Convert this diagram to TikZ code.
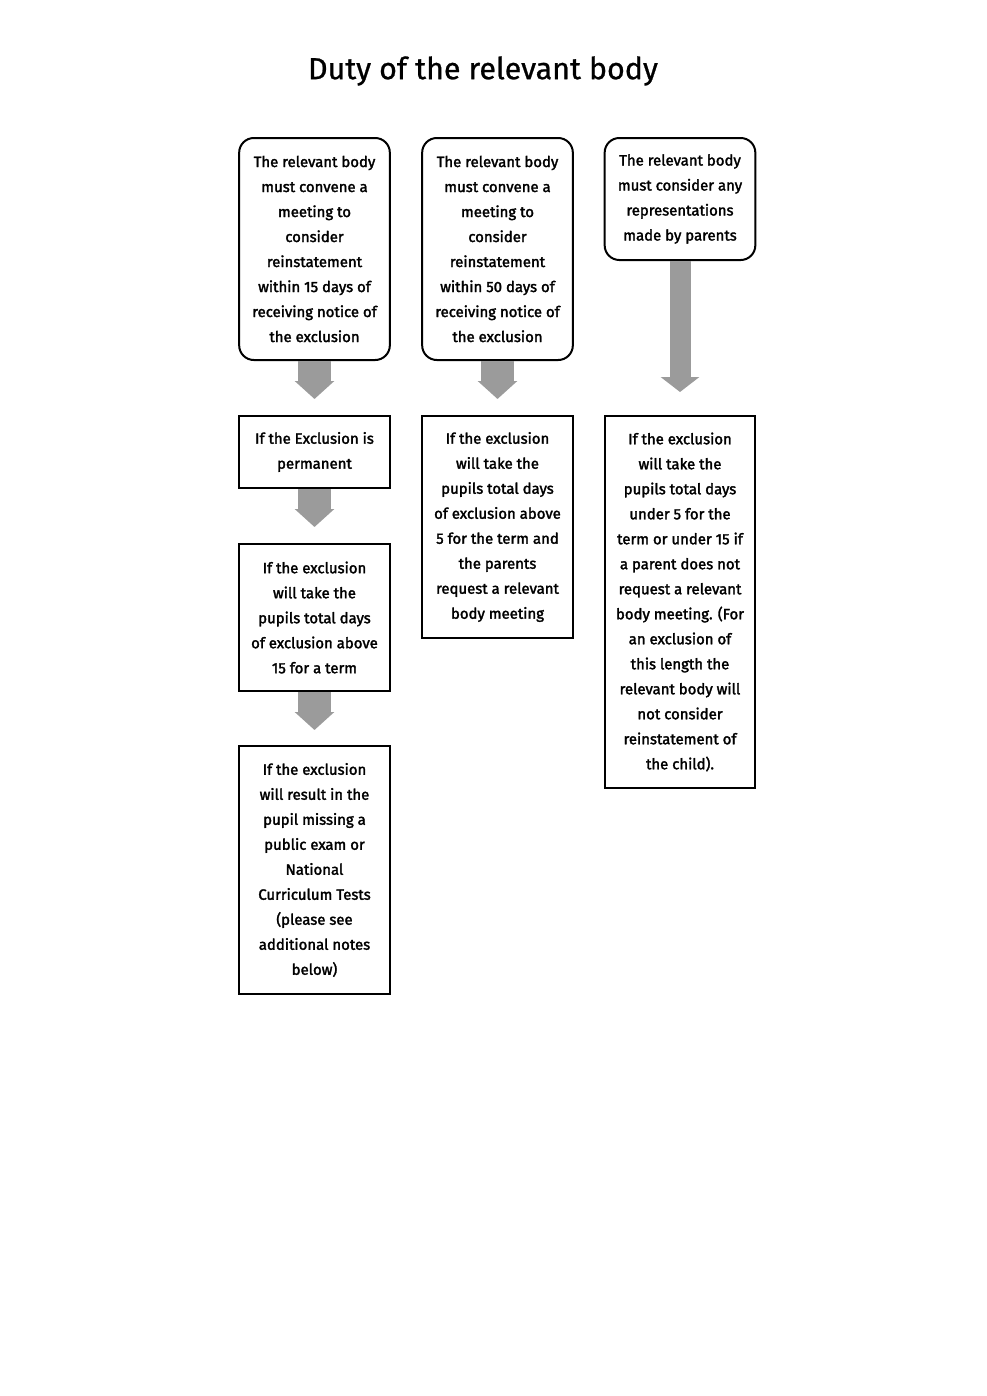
\documentclass[tikz,border=0pt]{standalone}
\usepackage{fontspec}
\setmainfont{Fira Sans}
\newfontfamily\boxfont{Fira Sans}[FakeBold=2]
\newfontfamily\titlefont{Fira Sans}[FakeBold=0.8]
\usetikzlibrary{arrows.meta}
\definecolor{arrowgray}{RGB}{155,155,155}
\begin{document}
\begin{tikzpicture}[x=0.75pt,y=-0.75pt,
  box/.style={draw=black,line width=1.5pt,minimum width=113pt,align=center,
    font=\boxfont\fontsize{11.2}{18.75}\selectfont,inner sep=0pt},
  rbox/.style={box,rounded corners=11pt},
  bigarrow/.style={draw=arrowgray,line width=24.75pt,-{Triangle[width=29pt,length=13.5pt]}},
  longarrow/.style={draw=arrowgray,line width=15.75pt,-{Triangle[width=28.5pt,length=11.25pt]}},
  titlestyle/.style={font=\titlefont\fontsize{22.8}{27}\selectfont,inner sep=0pt}]
\useasboundingbox (0,0) rectangle (987,1396);
\node[titlestyle] (title) at (483,71) {Duty of the relevant body};
% column 1
\node[rbox,minimum height=166.5pt] (a1) at (314.5,249) {The relevant body\\must convene a\\meeting to\\consider\\reinstatement\\within 15 days of\\receiving notice of\\the exclusion};
\node[box,minimum height=54pt] (b1) at (314.5,452) {If the Exclusion is\\permanent};
\node[box,minimum height=110.25pt] (c1) at (314.5,617.5) {If the exclusion\\will take the\\pupils total days\\of exclusion above\\15 for a term};
\node[box,minimum height=186pt] (d1) at (314.5,870) {If the exclusion\\will result in the\\pupil missing a\\public exam or\\National\\Curriculum Tests\\(please see\\additional notes\\below)};
% column 2
\node[rbox,minimum height=166.5pt] (a2) at (497.5,249) {The relevant body\\must convene a\\meeting to\\consider\\reinstatement\\within 50 days of\\receiving notice of\\the exclusion};
\node[box,minimum height=166.5pt] (b2) at (497.5,527) {If the exclusion\\will take the\\pupils total days\\of exclusion above\\5 for the term and\\the parents\\request a relevant\\body meeting};
% column 3
\node[rbox,minimum height=91.5pt] (a3) at (680,199) {The relevant body\\must consider any\\representations\\made by parents};
\node[box,minimum height=279pt] (b3) at (680,602) {If the exclusion\\will take the\\pupils total days\\under 5 for the\\term or under 15 if\\a parent does not\\request a relevant\\body meeting. (For\\an exclusion of\\this length the\\relevant body will\\not consider\\reinstatement of\\the child).};
% arrows
\draw[bigarrow] (a1.south) -- ([yshift=12pt]b1.north);
\draw[bigarrow] (b1.south) -- ([yshift=12pt]c1.north);
\draw[bigarrow] (c1.south) -- ([yshift=11.25pt]d1.north);
\draw[bigarrow] (a2.south) -- ([yshift=12pt]b2.north);
\draw[longarrow] (a3.south) -- ([yshift=17.25pt]b3.north);
\end{tikzpicture}
\end{document}
